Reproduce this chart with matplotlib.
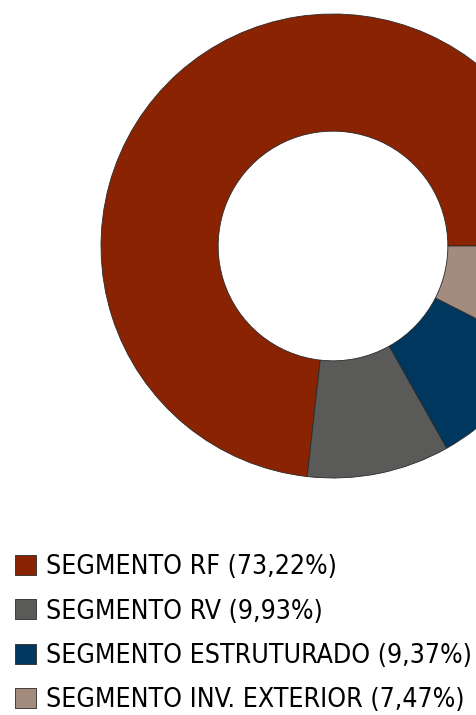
import matplotlib
matplotlib.use("Agg")
import matplotlib.pyplot as plt
from matplotlib import font_manager
from matplotlib.font_manager import FontProperties

categories = ["SEGMENTO RF", "SEGMENTO RV", "SEGMENTO ESTRUTURADO", "SEGMENTO INV. EXTERIOR"]
values = [73.22, 9.93, 9.37, 7.47]
colors = ["#8A2301", "#5A5A59", "#00375E", "#A38B7E"]
labels = [f"{c} ({f'{v:.2f}'.replace('.', ',')}%)" for c, v in zip(categories, values)]

# prefer a narrow sans font if one is installed
narrow = None
for f in font_manager.fontManager.ttflist:
    n = (f.name + " " + f.fname).lower()
    if ("narrow" in n or "condensed" in n) and "bold" not in n and "oblique" not in n and "italic" not in n:
        if "liberation" in n or narrow is None:
            narrow = f.fname
if narrow:
    base_fp = FontProperties(fname=narrow)
else:
    base_fp = FontProperties(family=["Liberation Sans", "DejaVu Sans"])

W, H = 477, 715
fig = plt.figure(figsize=(W / 100, H / 100), dpi=100)
cx, cy, r = 333, 246, 232
ax = fig.add_axes([(cx - r) / W, (H - cy - r) / H, 2 * r / W, 2 * r / H])
wedges, _ = ax.pie(values, colors=colors, startangle=0, counterclock=True, radius=1,
                   wedgeprops=dict(width=0.505, edgecolor="#2a2a2a", linewidth=0.6))
ax.set_xlim(-1, 1)
ax.set_ylim(-1, 1)
ax.set_aspect("equal")
ax.axis("off")

pitch = 44.3
sq = 21.0
target_left, target_top = 15.0, 555.0   # first square, pixels from top-left
target_right = 472.0


def make_legend(fs, ax_x, ax_y, ls_px):
    fp = base_fp.copy()
    fp.set_size(fs)
    fs_px = fs * 100 / 72
    return fig.legend(wedges, labels, loc="upper left",
                      bbox_to_anchor=(ax_x / W, 1 - ax_y / H),
                      frameon=False, prop=fp, handlelength=sq / fs_px, handleheight=sq / fs_px,
                      handletextpad=10 / fs_px, labelspacing=ls_px / fs_px,
                      borderpad=0, borderaxespad=0)


fs = 20.0
ax_x, ax_y = target_left, target_top - 6
ls_px = 12.0
for _ in range(5):
    leg = make_legend(fs, ax_x, ax_y, ls_px)
    fig.canvas.draw()
    right = max(t.get_window_extent().x1 for t in leg.get_texts())
    handles = leg.legend_handles
    hb = handles[0].get_window_extent()
    hb1 = handles[1].get_window_extent()
    cur_pitch = hb.y1 - hb1.y1
    new_fs = fs
    if right > target_right + 1:
        text_left = min(t.get_window_extent().x0 for t in leg.get_texts())
        new_fs = fs * (target_right - text_left) / (right - text_left)
    ls_px = max(0.0, ls_px + (pitch - cur_pitch))
    ax_x += target_left - hb.x0
    ax_y += target_top - (H - hb.y1)
    leg.remove()
    fs = new_fs

leg = make_legend(fs, ax_x, ax_y, ls_px)

fig.savefig("out.png", dpi=100)
